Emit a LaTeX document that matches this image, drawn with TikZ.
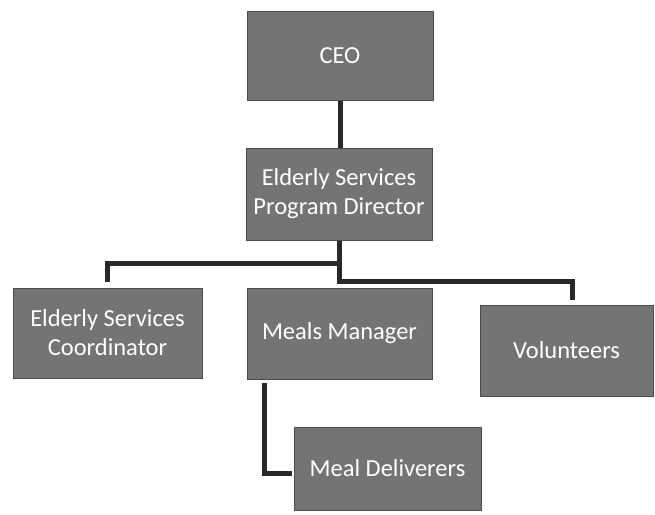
\documentclass[tikz,border=0pt]{standalone}
\usepackage{fontspec}
\setmainfont{Carlito}
\usepackage{xcolor}
\usepackage{tikz}
\usetikzlibrary{positioning}

\definecolor{boxgray}{RGB}{116,116,116}
\definecolor{edgegray}{RGB}{75,75,75}
\definecolor{linegray}{RGB}{40,40,40}

\tikzset{
  orgbox/.style={draw=edgegray, line width=1pt, fill=boxgray, text=white,
    align=center, inner sep=0pt, font=\fontsize{24.5}{29}\selectfont},
  conn/.style={draw=linegray, line width=5pt}
}

\begin{document}
\begin{tikzpicture}[x=1pt,y=-1pt]
\fill[white] (0,0) rectangle (655,514);
\useasboundingbox (0,0) rectangle (655,514);
\node[orgbox, minimum width=186pt, minimum height=89pt] (ceo) at (340,55.5) {CEO};
\node[orgbox, minimum width=186pt, minimum height=92pt] (dir) at (339,194) {Elderly Services\\Program Director};
\node[orgbox, minimum width=189pt, minimum height=90pt] (coord) at (107.5,333) {Elderly Services\\Coordinator};
\node[orgbox, minimum width=185pt, minimum height=91pt] (meals) at (339.5,333.5) {Meals Manager};
\node[orgbox, minimum width=173pt, minimum height=91pt] (vol) at (566.5,350.5) {Volunteers};
\node[orgbox, minimum width=187pt, minimum height=83pt] (deliv) at (387.5,468.5) {Meal Deliverers};
\draw[conn] (ceo.south) -- (ceo.south |- dir.north);
\draw[conn, shorten >=6pt] (dir.south) -- ++(0,23) -| (coord.north);
\draw[conn, shorten >=5pt] (dir.south) -- ++(0,41) -| ([xshift=5.5pt]vol.north);
\draw[conn, shorten <=3pt, shorten >=2pt] ([xshift=-75.5pt]meals.south) |- ([yshift=-4.5pt]deliv.west);
\end{tikzpicture}
\end{document}
